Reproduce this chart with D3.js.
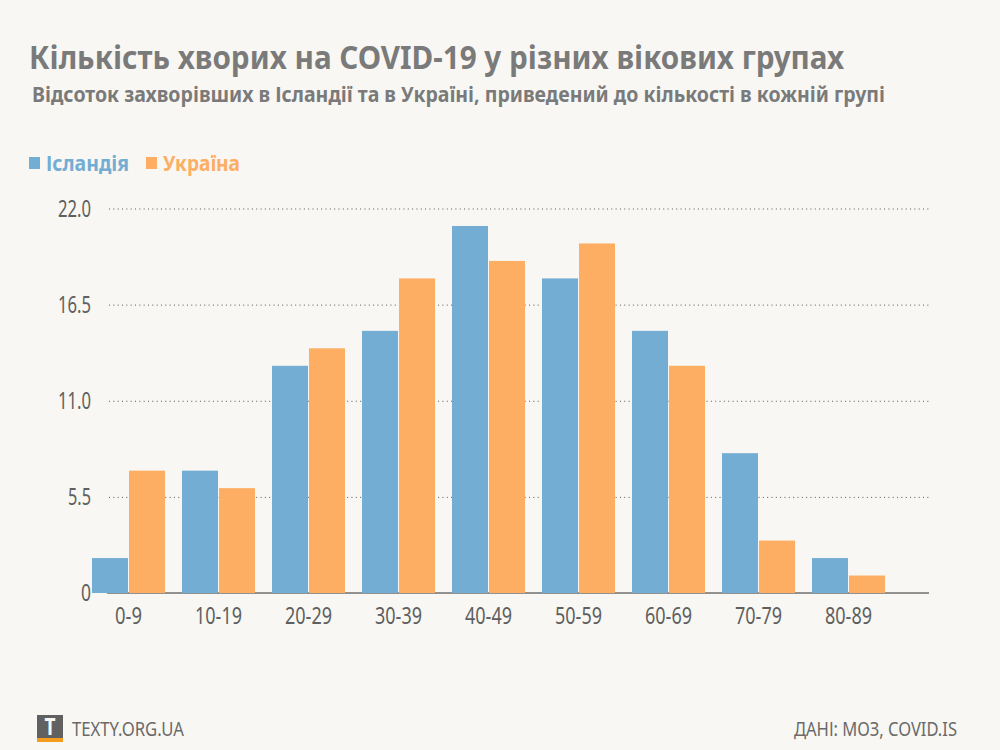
<!DOCTYPE html>
<html lang="uk">
<head>
<meta charset="utf-8">
<title>Кількість хворих на COVID-19 у різних вікових групах</title>
<script src="https://cdn.jsdelivr.net/npm/d3@7"></script>
<style>
  html, body { margin: 0; padding: 0; background: #f8f7f3; }
  svg { display: block; }
  text { font-family: "Noto Sans", "Open Sans", sans-serif; }
</style>
</head>
<body>
<svg id="chart" width="1000" height="750"></svg>
<script>
const categories = ["0-9", "10-19", "20-29", "30-39", "40-49", "50-59", "60-69", "70-79", "80-89"];
const seriesNames = ["Ісландія", "Україна"];
const iceland = [2, 7, 13, 15, 21, 18, 15, 8, 2];
const ukraine = [7, 6, 14, 18, 19, 20, 13, 3, 1];
const yTicks = [0, 5.5, 11, 16.5, 22];
const yTickLabels = ["0", "5.5", "11.0", "16.5", "22.0"];
const palette = ["#74add3", "#feae63"];

const svg = d3.select("#chart");

// Text helper: fits a string to a fixed horizontal extent
function label(x, y, str, size, weight, fill, width, anchor) {
  const t = svg.append("text")
    .attr("x", x).attr("y", y)
    .attr("font-size", size).attr("font-weight", weight)
    .attr("fill", fill).attr("text-anchor", anchor || "start")
    .text(str);
  if (width) t.attr("textLength", width).attr("lengthAdjust", "spacingAndGlyphs");
  return t;
}

svg.append("rect").attr("width", 1000).attr("height", 750).attr("fill", "#f8f7f3");

label(29, 69, "Кількість хворих на COVID-19 у різних вікових групах", 33, 700, "#7a7a7a", 815);
label(32, 102, "Відсоток захворівших в Ісландії та в Україні, приведений до кількості в кожній групі", 22, 700, "#7a7a7a", 853);

// Legend
const legend = [[29, 46, 83], [146, 163, 77]];
seriesNames.forEach((name, i) => {
  svg.append("rect").attr("x", legend[i][0]).attr("y", 157).attr("width", 11).attr("height", 12).attr("fill", palette[i]);
  label(legend[i][1], 171, name, 22, 700, palette[i], legend[i][2]);
});

// Scales
const y = d3.scaleLinear().domain([0, 22]).range([593, 208.5]);
const x = d3.scaleBand().domain(categories).range([92, 885]).paddingInner(17 / 90).paddingOuter(0);
const xSub = d3.scaleBand().domain(seriesNames).range([0, x.bandwidth()]).paddingInner(1 / 37);

// Dotted horizontal gridlines and value labels
const yAxis = svg.append("g")
  .attr("transform", "translate(109,0)")
  .call(d3.axisLeft(y).tickValues(yTicks).tickSize(-820).tickPadding(18)
    .tickFormat((d, i) => yTickLabels[i]));
yAxis.select(".domain").remove();
yAxis.selectAll(".tick line")
  .attr("stroke", "#555").attr("stroke-width", 1).attr("stroke-dasharray", "1 3.33")
  .attr("display", d => d === 0 ? "none" : null);
const yWidths = { "0": 10, "5.5": 23, "11.0": 33, "16.5": 33, "22.0": 33 };
yAxis.selectAll(".tick text")
  .attr("font-size", 24).attr("fill", "#5f5f5f")
  .style("font-family", '"Noto Sans", sans-serif')
  .attr("textLength", (d, i) => yWidths[yTickLabels[i]])
  .attr("lengthAdjust", "spacingAndGlyphs");

// Baseline
svg.append("line").attr("x1", 107).attr("x2", 929).attr("y1", 593).attr("y2", 593)
  .attr("stroke", "#6f6f6f").attr("stroke-width", 1.5);

// Bars
const rows = categories.map((c, i) => ({ c, values: [iceland[i], ukraine[i]] }));
svg.append("g").selectAll("g").data(rows).join("g")
  .attr("transform", d => `translate(${x(d.c)},0)`)
  .selectAll("rect").data(d => d.values.map((v, i) => ({ v, name: seriesNames[i], i }))).join("rect")
  .attr("x", d => xSub(d.name))
  .attr("y", d => y(d.v))
  .attr("width", xSub.bandwidth())
  .attr("height", d => y(0) - y(d.v))
  .attr("fill", d => palette[d.i]);

// Category labels
const xAxis = svg.append("g")
  .attr("transform", "translate(0,593)")
  .call(d3.axisBottom(x).tickSize(0).tickPadding(14));
xAxis.select(".domain").remove();
xAxis.selectAll(".tick text")
  .attr("font-size", 24).attr("fill", "#5f5f5f")
  .style("font-family", '"Noto Sans", sans-serif')
  .attr("textLength", d => d === "0-9" ? 27 : 47)
  .attr("lengthAdjust", "spacingAndGlyphs");

// Footer mark and source line
svg.append("rect").attr("x", 37).attr("y", 715).attr("width", 26).attr("height", 23).attr("fill", "#616161");
svg.append("rect").attr("x", 37).attr("y", 738).attr("width", 26).attr("height", 4).attr("fill", "#f39c1f");
label(50, 735, "T", 24, 700, "#f8f7f3", 11, "middle");
label(72, 736, "TEXTY.ORG.UA", 20, 400, "#6a6a6a", 112);
label(794, 736, "ДАНІ: МОЗ, COVID.IS", 20, 400, "#6a6a6a", 163);
</script>
</body>
</html>
